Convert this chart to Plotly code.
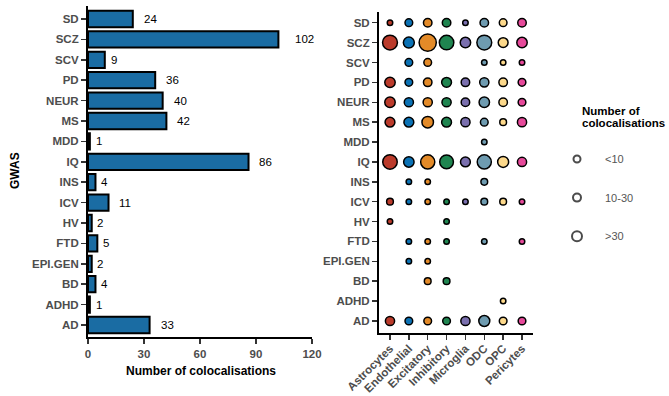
import plotly.graph_objects as go
import math

# ---------------- data ----------------
gwas = ["SD", "SCZ", "SCV", "PD", "NEUR", "MS", "MDD", "IQ", "INS", "ICV",
        "HV", "FTD", "EPI.GEN", "BD", "ADHD", "AD"]
coloc_totals = [24, 102, 9, 36, 40, 42, 1, 86, 4, 11, 2, 5, 2, 4, 1, 33]

cell_types = ["Astrocytes", "Endothelial", "Excitatory", "Inhibitory",
              "Microglia", "ODC", "OPC", "Pericytes"]
# colocalisations per GWAS (same order as gwas) for each cell type (estimated)
astrocytes  = [1, 17, 0, 7, 7, 6, 0, 16, 0, 2, 1, 0, 0, 0, 0, 5]
endothelial = [3, 8, 3, 3, 5, 6, 0, 7, 1, 1, 0, 1, 1, 0, 0, 3]
excitatory  = [4, 24, 3, 4, 5, 9, 0, 15, 1, 1, 0, 1, 1, 2, 0, 3]
inhibitory  = [4, 16, 0, 6, 5, 6, 0, 14, 0, 1, 1, 1, 0, 2, 0, 3]
microglia   = [1, 7, 0, 4, 4, 5, 0, 6, 0, 1, 0, 0, 0, 0, 0, 5]
odc         = [4, 17, 1, 5, 7, 3, 1, 15, 2, 2, 0, 1, 0, 0, 0, 8]
opc         = [3, 6, 1, 4, 4, 2, 0, 8, 0, 2, 0, 0, 0, 0, 1, 3]
pericytes   = [4, 7, 1, 3, 3, 5, 0, 5, 0, 1, 0, 1, 0, 0, 0, 3]
cell_counts = [astrocytes, endothelial, excitatory, inhibitory,
               microglia, odc, opc, pericytes]

x_ticks = [0, 30, 60, 90, 120]
legend_labels = ["<10", "10-30", ">30"]

# ---------------- style ----------------
W, H = 669, 396
FONT = "Liberation Sans, Arial, Helvetica, sans-serif"
TICK_GREY = "#4d4d4d"
BAR_COLOR = "#1a6ca3"
cell_colors = ["#bb3b2b", "#0b72b5", "#e38a28", "#1f8550",
               "#7a6fae", "#6e9bb0", "#fdd98b", "#e6499a"]
legend_marker_sizes = [7, 8, 10]


def fx(p):
    return p / W


def fy(p):
    return 1 - p / H


def dot_size(c):
    return 4 + 3 * math.sqrt(c) - 1.5


fig = go.Figure()

# bar chart
fig.add_trace(go.Bar(
    x=coloc_totals, y=gwas, orientation="h", width=0.8,
    marker=dict(color=BAR_COLOR, line=dict(color="black", width=2)),
    xaxis="x", yaxis="y", showlegend=False, hoverinfo="skip"))

# dot plot
for ct, counts, col in zip(cell_types, cell_counts, cell_colors):
    ys = [g for g, c in zip(gwas, counts) if c > 0]
    ss = [dot_size(c) for c in counts if c > 0]
    fig.add_trace(go.Scatter(
        x=[ct] * len(ys), y=ys, mode="markers",
        marker=dict(color=col, size=ss, opacity=1,
                    line=dict(color="black", width=1.5)),
        xaxis="x2", yaxis="y2", showlegend=False, hoverinfo="skip"))

# size legend
fig.add_trace(go.Scatter(
    x=[0] * len(legend_labels), y=legend_labels, mode="markers",
    marker=dict(color="rgba(0,0,0,0)", size=legend_marker_sizes,
                line=dict(color="black", width=2)),
    xaxis="x3", yaxis="y3", showlegend=False, hoverinfo="skip"))

tickfont = dict(family=FONT, size=11.5, color=TICK_GREY, weight="bold")
axis_common = dict(showline=True, linecolor="black", linewidth=2,
                   ticks="outside", ticklen=5, tickwidth=1.5, tickcolor="#333333",
                   showgrid=False, zeroline=False, tickfont=tickfont,
                   automargin=False, fixedrange=True)

gwas_bottom_up = list(reversed(gwas))

fig.update_layout(
    template="none",
    width=W, height=H,
    margin=dict(l=0, r=0, t=0, b=0, autoexpand=False),
    paper_bgcolor="white", plot_bgcolor="white",
    font=dict(family=FONT),
    bargap=0, showlegend=False,
    xaxis=dict(domain=[fx(88), fx(312)], range=[0, 120], tickvals=x_ticks,
               anchor="y", **axis_common),
    yaxis=dict(domain=[fy(337), fy(6)], type="category",
               categoryorder="array", categoryarray=gwas_bottom_up,
               range=[-0.588, 15.637], anchor="x", **axis_common),
    xaxis2=dict(domain=[fx(379), fx(533)], type="category",
                categoryorder="array", categoryarray=cell_types,
                range=[-0.583, 7.583], tickangle=-45, ticklabelstandoff=-3,
                anchor="y2", **axis_common),
    yaxis2=dict(domain=[fy(333.3), fy(12)], type="category",
                categoryorder="array", categoryarray=gwas_bottom_up,
                range=[-0.618, 15.538], anchor="x2", **axis_common),
    xaxis3=dict(domain=[fx(560), fx(660)], range=[-0.607, 2.964],
                visible=False, anchor="y3", fixedrange=True),
    yaxis3=dict(domain=[fy(260), fy(140)], type="category",
                categoryorder="array", categoryarray=list(reversed(legend_labels)),
                range=[-0.613, 2.49], visible=False, anchor="x3", fixedrange=True),
)

annotations = []
# bar value labels
for g, v in zip(gwas, coloc_totals):
    n = len(str(v))
    annotations.append(dict(
        x=v, y=g, xref="x", yref="y", text=str(v), showarrow=False,
        xanchor="left", yanchor="middle", xshift=5.2 * n - 1.5,
        font=dict(family=FONT, size=11.5, color="black")))

# axis titles
annotations.append(dict(
    x=fx(15), y=fy(171), xref="paper", yref="paper", text="GWAS",
    textangle=-90, showarrow=False, xanchor="center", yanchor="middle",
    font=dict(family=FONT, size=12, color="black", weight="bold")))
annotations.append(dict(
    x=fx(200.5), y=fy(371), xref="paper", yref="paper",
    text="Number of colocalisations", showarrow=False,
    xanchor="center", yanchor="middle",
    font=dict(family=FONT, size=12, color="black", weight="bold")))

# legend title
for txt, py in [("Number of", 110.7), ("colocalisations", 123.3)]:
    annotations.append(dict(
        x=fx(580), y=fy(py), xref="paper", yref="paper", text=txt,
        showarrow=False, xanchor="left", yanchor="middle",
        font=dict(family=FONT, size=11.5, color="black", weight="bold")))

# legend labels
for lab in legend_labels:
    annotations.append(dict(
        x=1, y=lab, xref="x3", yref="y3",
        text=lab.replace("<", "&lt;").replace(">", "&gt;"), showarrow=False,
        xanchor="left", yanchor="middle", xshift=-2,
        font=dict(family=FONT, size=11, color="#555555")))

fig.update_layout(annotations=annotations)

fig.write_html(
    "out.html",
    config={"displayModeBar": False, "staticPlot": True},
    post_script="document.body.style.margin='0';document.body.style.overflow='hidden';")
